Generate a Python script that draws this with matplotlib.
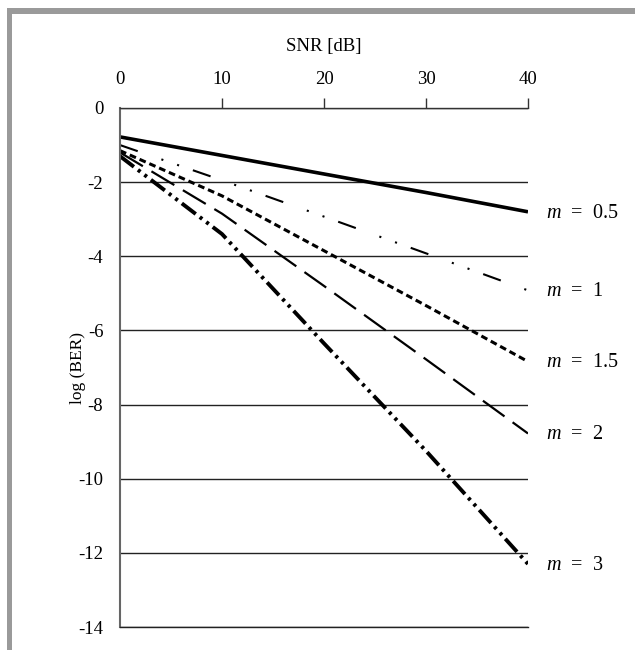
import matplotlib
matplotlib.use('Agg')
import matplotlib.pyplot as plt
from matplotlib.patches import Rectangle

plt.rcParams['font.family'] = 'Liberation Serif'
plt.rcParams['mathtext.fontset'] = 'custom'
plt.rcParams['mathtext.rm'] = 'Liberation Serif'
plt.rcParams['mathtext.it'] = 'Liberation Serif:italic'

# Data (log BER at SNR = 0, 10, 20, 30, 40 dB)
snr = [0, 10, 20, 30, 40]
labels = ['0.5', '1', '1.5', '2', '3']
ber_m05 = [-0.78, -1.28, -1.78, -2.28, -2.80]
ber_m1 = [-1.00, -1.95, -2.93, -3.92, -4.92]
ber_m15 = [-1.15, -2.37, -3.85, -5.33, -6.84]
ber_m2 = [-1.20, -2.85, -4.80, -6.78, -8.78]
ber_m3 = [-1.30, -3.40, -6.35, -9.25, -12.30]

xticks = [0, 10, 20, 30, 40]
yticks = [0, -2, -4, -6, -8, -10, -12, -14]

series = [ber_m05, ber_m1, ber_m15, ber_m2, ber_m3]
styles = [
    dict(lw=2.6, ls='-'),
    dict(lw=1.5, ls=(0, (9, 12, 1, 7, 1, 7))),
    dict(lw=2.2, ls=(0, (2.2, 1.3))),
    dict(lw=1.6, ls=(0, (12, 4.5))),
    dict(lw=2.8, ls=(0, (4.5, 1.3, 0.8, 1.3, 0.8, 1.3))),
]

fig = plt.figure(figsize=(6.35, 6.5), dpi=100)

# gray frame on top and left
fig.add_artist(Rectangle((7 / 635, 0), 5 / 635, 1 - 8 / 650, transform=fig.transFigure,
                         color='#9a9a9a', lw=0))
fig.add_artist(Rectangle((7 / 635, 1 - 14 / 650), 1, 6 / 650, transform=fig.transFigure,
                         color='#9a9a9a', lw=0))

ax = fig.add_axes([120 / 635, 1 - 627 / 650, 408 / 635, 519 / 650])

for ys, st in zip(series, styles):
    ax.plot(snr, ys, color='black', solid_capstyle='butt', dash_capstyle='butt', **st)

for lab, ys in zip(labels, series):
    ax.annotate(r'$m$  =  ' + lab, xy=(snr[-1], ys[-1]), xytext=(13, -1),
                textcoords='offset points', va='center', ha='left', fontsize=14.5,
                annotation_clip=False)

ax.set_xlim(0, 40)
ax.set_ylim(-14, 0)
ax.set_xticks(xticks)
ax.set_yticks(yticks)
ax.set_yticklabels([str(v) for v in yticks])
ax.xaxis.tick_top()
ax.xaxis.set_label_position('top')
ax.set_xlabel('SNR [dB]', fontsize=13.5, labelpad=14)
ax.set_ylabel('log (BER)', fontsize=12.5)
ax.yaxis.set_label_coords((86 - 120) / 408, (627 - 368) / 519)
ax.tick_params(axis='x', direction='out', length=7, width=1, color='#333333',
               labelsize=13.5, pad=7.5)
ax.tick_params(axis='y', length=0, labelsize=13.5, pad=12)
ax.xaxis.get_major_ticks()[0].tick2line.set_visible(False)

ax.yaxis.grid(True, color='#222222', lw=1.0)
ax.set_axisbelow(True)
ax.spines['right'].set_visible(False)
ax.spines['bottom'].set_color('#222222')
ax.spines['bottom'].set_linewidth(1.0)
ax.spines['left'].set_color('#666666')
ax.spines['left'].set_linewidth(1.5)
ax.spines['top'].set_color('#333333')
ax.spines['top'].set_linewidth(1.0)

fig.savefig('out.png', dpi=100)
